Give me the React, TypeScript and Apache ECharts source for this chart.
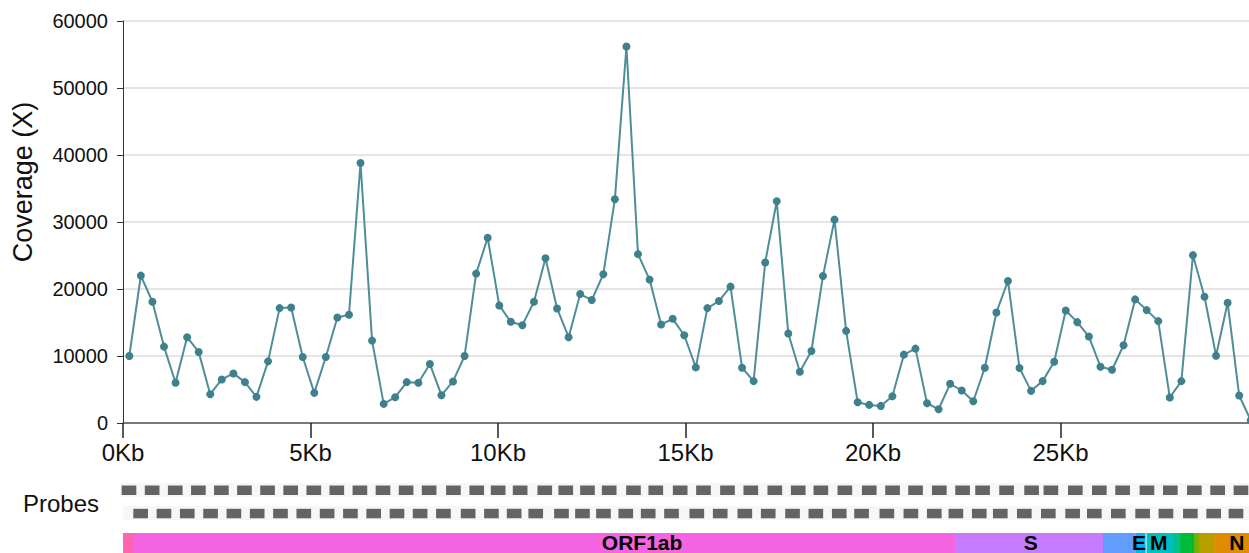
import React, { useEffect, useRef } from "react";
import * as echarts from "echarts";

const FONT = "'Liberation Sans', Arial, Helvetica, sans-serif";

// Amplicon centre positions (bp) and coverage (X)
const positions: number[] = [
  168, 476, 785, 1093, 1401, 1710, 2018, 2326, 2634, 2943,
  3251, 3559, 3868, 4176, 4484, 4793, 5101, 5409, 5717, 6026,
  6334, 6642, 6951, 7259, 7567, 7876, 8184, 8492, 8800, 9109,
  9417, 9725, 10034, 10342, 10650, 10959, 11267, 11575, 11883, 12192,
  12500, 12808, 13117, 13425, 13733, 14042, 14350, 14658, 14966, 15275,
  15583, 15891, 16200, 16508, 16816, 17125, 17433, 17741, 18049, 18358,
  18666, 18974, 19283, 19591, 19899, 20208, 20516, 20824, 21132, 21441,
  21749, 22057, 22366, 22674, 22982, 23291, 23599, 23907, 24215, 24524,
  24832, 25140, 25449, 25757, 26065, 26374, 26682, 26990, 27298, 27607,
  27915, 28223, 28532, 28840, 29148, 29457, 29765, 30073,
];

const coverage: number[] = [
  10000, 22000, 18100, 11400, 6000, 12800, 10600, 4300, 6500, 7400,
  6100, 3900, 9200, 17150, 17250, 9850, 4500, 9850, 15750, 16150,
  38800, 12300, 2850, 3850, 6100, 6000, 8800, 4150, 6200, 10000,
  22300, 27650, 17550, 15100, 14600, 18100, 24600, 17100, 12800, 19250,
  18350, 22200, 33400, 56200, 25200, 21400, 14700, 15550, 13100, 8300,
  17150, 18200, 20350, 8250, 6250, 23950, 33100, 13350, 7650, 10750,
  21950, 30350, 13750, 3100, 2700, 2550, 4000, 10200, 11100, 2950,
  2050, 5850, 4850, 3250, 8250, 16500, 21200, 8200, 4800, 6250,
  9150, 16800, 15050, 12900, 8400, 7950, 11600, 18450, 16850, 15200,
  3800, 6250, 25050, 18850, 10050, 17950, 4100, 400,
];

const xTickValues: number[] = [0, 5000, 10000, 15000, 20000, 25000];
const yTickMax = 60000;

// Probe (amplicon) start positions, bp, two pools
const probePool1: number[] = [
  -35, 565, 1164, 1763, 2359, 2957, 3556, 4155, 4754, 5350,
  5949, 6547, 7146, 7742, 8372, 8976, 9531, 10101, 10739, 11283,
  11846, 12408, 13038, 13616, 14248, 14852, 15474, 16078, 16700, 17307,
  17893, 18515, 19147, 19751, 20347, 20962, 21566, 22084, 22706, 23354,
  23854, 24487, 25109, 25713, 26343, 26949, 27571, 28175, 28779,
];
const probePool2: number[] = [
  267, 871, 1475, 2079, 2683, 3287, 3891, 4495, 5099, 5703,
  6306, 6910, 7509, 8113, 8753, 9357, 9946, 10505, 11172, 11716,
  12260, 12838, 13419, 14023, 14679, 15285, 15923, 16529, 17159, 17763,
  18370, 18948, 19603, 20226, 20832, 21392, 21998, 22543, 23165, 23787,
  24417, 24979, 25601, 26231, 26835, 27468, 28072, 28650,
];
const probeLength = 380;

// Genes
const genes: string[] = ["5'UTR", "ORF1ab", "S", "ORF3a", "E", "M", "ORF6", "ORF7a", "ORF7b", "ORF8", "N", "ORF10"];
const geneStart: number[] = [1, 266, 21563, 25393, 26245, 26523, 27202, 27394, 27756, 27894, 28274, 29558];
const geneEnd: number[] = [265, 21555, 25384, 26220, 26472, 27191, 27387, 27759, 27887, 28259, 29533, 29674];
const geneColors: string[] = [
  "#FF64B0", "#F564E3", "#C77CFF", "#619CFF", "#00B4F0", "#00BFC4",
  "#00C08B", "#00BA38", "#7CAE00", "#B79F00", "#DE8C00", "#F8766D",
];
const geneLabels: string[] = ["ORF1ab", "S", "E", "M", "N"];
const geneLabelPos: number[] = [13450, 23520, 26330, 26840, 28860];

const GENOME_LENGTH = 29903;

export default function App() {
  const ref = useRef<HTMLDivElement>(null);

  useEffect(() => {
    if (!ref.current) return;
    const chart = echarts.init(ref.current, null, { renderer: "svg" });

    const lineData = positions.map((p, i) => [p, coverage[i]]);
    const probeData = [
      ...probePool1.map((s) => [s, s + probeLength, 0]),
      ...probePool2.map((s) => [s, s + probeLength, 1]),
    ];
    const geneData = genes.map((g, i) => ({ name: g, value: [geneStart[i], geneEnd[i], i] }));
    const labelData = geneLabels.map((g, i) => ({ name: g, value: [geneLabelPos[i], 0] }));

    const option: any = {
      animation: false,
      backgroundColor: "#ffffff",
      textStyle: { fontFamily: FONT },
      grid: [
        { left: 123, top: 21, width: 1132.5, height: 402, outerBoundsMode: "none", containLabel: false },
        { left: 123, top: 480, width: 1154, height: 73, outerBoundsMode: "none", containLabel: false },
      ],
      xAxis: [
        {
          type: "value",
          gridIndex: 0,
          min: 0,
          max: 30200,
          interval: 5000,
          axisLine: { show: true, onZero: false, lineStyle: { color: "#555", width: 1.5 } },
          axisTick: { show: true, length: 15, customValues: xTickValues, lineStyle: { color: "#222", width: 1.5 } },
          axisLabel: {
            customValues: xTickValues,
            formatter: (v: number) => `${v / 1000}Kb`,
            fontSize: 24,
            color: "#111",
            margin: 17,
            fontFamily: FONT,
          },
          splitLine: { show: false },
        },
        {
          type: "value",
          gridIndex: 1,
          min: 0,
          max: GENOME_LENGTH,
          show: false,
        },
      ],
      yAxis: [
        {
          type: "value",
          gridIndex: 0,
          min: 0,
          max: yTickMax,
          interval: 10000,
          axisLine: { show: true, lineStyle: { color: "#333", width: 1 } },
          axisTick: { show: true, length: 6, lineStyle: { color: "#333" } },
          axisLabel: {
            fontSize: 20,
            color: "#111",
            margin: 15,
            fontFamily: FONT,
            formatter: (v: number) => String(v),
          },
          splitLine: { show: true, lineStyle: { color: "#dcdcdc", width: 1.5 } },
        },
        {
          type: "value",
          gridIndex: 1,
          min: 0,
          max: 1,
          show: false,
        },
      ],
      graphic: [
        { type: "rect", z: 0, shape: { x: 120, y: 483, width: 1129, height: 14 }, style: { fill: "#f7f7f7" } },
        { type: "rect", z: 0, shape: { x: 123, y: 506, width: 1126, height: 14 }, style: { fill: "#f7f7f7" } },
        {
          type: "text",
          x: 23,
          y: 503,
          style: { text: "Probes", fontSize: 24, fontFamily: FONT, fill: "#111", align: "left", verticalAlign: "middle" },
        },
        {
          type: "text",
          x: 23,
          y: 182,
          rotation: Math.PI / 2,
          style: { text: "Coverage (X)", fontSize: 27, fontFamily: FONT, fill: "#111", align: "center", verticalAlign: "middle" },
        },
      ],
      series: [
        {
          type: "line",
          xAxisIndex: 0,
          yAxisIndex: 0,
          data: lineData,
          symbol: "circle",
          symbolSize: 8,
          showSymbol: true,
          lineStyle: { color: "#4f8e99", width: 2 },
          itemStyle: { color: "#3e808c" },
          z: 5,
        },
        {
          type: "custom",
          xAxisIndex: 1,
          yAxisIndex: 1,
          clip: false,
          data: probeData,
          renderItem: (params: any, api: any) => {
            const s = api.coord([api.value(0), 0]);
            const e = api.coord([api.value(1), 0]);
            const cs = params.coordSys;
            const pool = api.value(2);
            const y = cs.y + (pool === 0 ? 5.5 : 28.8);
            return {
              type: "rect",
              shape: { x: s[0], y, width: e[0] - s[0], height: 9.5 },
              style: { fill: "#646464" },
            };
          },
        },
        {
          type: "custom",
          xAxisIndex: 1,
          yAxisIndex: 1,
          clip: false,
          data: geneData,
          renderItem: (params: any, api: any) => {
            const s = api.coord([api.value(0), 0]);
            const e = api.coord([api.value(1), 0]);
            const cs = params.coordSys;
            const idx = api.value(2);
            return {
              type: "rect",
              shape: { x: s[0], y: cs.y + 53, width: e[0] - s[0] + 1, height: 30 },
              style: { fill: geneColors[idx] },
            };
          },
          z: 3,
        },
        {
          type: "custom",
          xAxisIndex: 1,
          yAxisIndex: 1,
          clip: false,
          data: labelData,
          renderItem: (params: any, api: any) => {
            const p = api.coord([api.value(0), 0]);
            const cs = params.coordSys;
            return {
              type: "text",
              x: p[0],
              y: cs.y + 62,
              style: {
                text: geneLabels[params.dataIndex],
                fontSize: 21,
                fontWeight: "bold",
                fontFamily: FONT,
                fill: "#000",
                align: "center",
                verticalAlign: "middle",
              },
            };
          },
          z: 4,
        },
      ],
    };

    chart.setOption(option);
    return () => chart.dispose();
  }, []);

  return (
    <div
      ref={ref}
      style={{ position: "fixed", left: 0, top: 0, width: 1249, height: 553, background: "#fff" }}
    />
  );
}
